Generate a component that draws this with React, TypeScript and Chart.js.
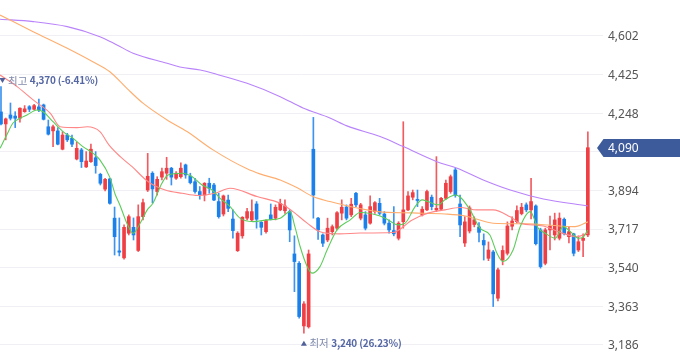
import { useEffect, useRef } from 'react';
import { Chart, registerables } from 'chart.js';

Chart.register(...registerables);

// ---- Candle data (daily OHLC) ----
const opens = [
  4254, 4199, 4240, 4235, 4225, 4255, 4278, 4266, 4277, 4286,
  4186, 4167, 4167, 4083, 4148, 4133, 4038, 4080, 4002, 4026,
  4044, 3968, 3900, 3947, 3767, 3617, 3585, 3698, 3725, 3619,
  3774, 3896, 3973, 3889, 3955, 3973, 3996, 3950, 3957, 4011,
  3960, 3934, 3889, 3873, 3927, 3919, 3843, 3786, 3850, 3763,
  3618, 3686, 3767, 3759, 3832, 3748, 3705, 3782, 3767, 3805,
  3801, 3797, 3603, 3560, 3273, 3269, 4083, 3767, 3690, 3667,
  3705, 3721, 3790, 3818, 3782, 3881, 3767, 3782, 3744, 3797,
  3835, 3786, 3744, 3710, 3675, 3751, 3805, 3863, 3853, 3782,
  3805, 3863, 3805, 3808, 3858, 3889, 3988, 3832, 3653, 3708,
  3738, 3727, 3665, 3583, 3612, 3400, 3575, 3606, 3730, 3751,
  3788, 3828, 3805, 3823, 3713, 3560, 3713, 3690, 3675, 3762,
  3682, 3695, 3621, 3665, 3690,
];
const highs = [
  4370, 4226, 4295, 4255, 4273, 4283, 4283, 4289, 4313, 4290,
  4217, 4194, 4182, 4163, 4156, 4148, 4115, 4087, 4072, 4106,
  4072, 3973, 3950, 3950, 3818, 3768, 3736, 3782, 3768, 3828,
  3854, 4064, 3980, 3957, 3996, 4046, 4000, 3980, 4021, 4015,
  3973, 3950, 3912, 3930, 3950, 3927, 3881, 3873, 3873, 3805,
  3705, 3774, 3812, 3851, 3843, 3751, 3759, 3832, 3828, 3854,
  3851, 3805, 3686, 3568, 3385, 3621, 4229, 3771, 3695, 3767,
  3736, 3797, 3851, 3828, 3858, 3885, 3835, 3797, 3869, 3843,
  3858, 3797, 3759, 3820, 3751, 4209, 3889, 3896, 3896, 3820,
  3896, 3873, 4049, 3863, 3942, 3965, 3996, 3873, 3774, 3823,
  3773, 3747, 3695, 3658, 3619, 3538, 3640, 3750, 3773, 3823,
  3835, 3837, 3950, 3828, 3721, 3721, 3777, 3790, 3791, 3768,
  3728, 3698, 3686, 3695, 4163,
];
const lows = [
  4194, 4126, 4217, 4182, 4207, 4252, 4255, 4263, 4255, 4217,
  4148, 4095, 4103, 4080, 4118, 4095, 4034, 3999, 3999, 4023,
  3973, 3919, 3892, 3831, 3598, 3594, 3579, 3690, 3667, 3614,
  3759, 3889, 3837, 3873, 3942, 3945, 3919, 3945, 3950, 3950,
  3924, 3881, 3854, 3846, 3881, 3847, 3767, 3777, 3797, 3675,
  3614, 3675, 3759, 3751, 3721, 3690, 3698, 3759, 3759, 3801,
  3789, 3659, 3430, 3308, 3240, 3263, 3767, 3670, 3637, 3659,
  3690, 3713, 3759, 3759, 3774, 3820, 3759, 3713, 3740, 3789,
  3782, 3736, 3698, 3686, 3667, 3721, 3801, 3851, 3820, 3777,
  3801, 3805, 3797, 3805, 3854, 3881, 3863, 3682, 3637, 3699,
  3727, 3658, 3575, 3572, 3362, 3388, 3553, 3598, 3713, 3744,
  3782, 3796, 3763, 3644, 3538, 3553, 3621, 3667, 3667, 3690,
  3653, 3594, 3614, 3591, 3682,
];
const closes = [
  4199, 4222, 4225, 4225, 4271, 4268, 4266, 4283, 4263, 4220,
  4152, 4186, 4106, 4148, 4126, 4106, 4087, 4026, 4029, 4083,
  4008, 3927, 3945, 3835, 3682, 3611, 3725, 3774, 3690, 3774,
  3838, 3959, 3901, 3945, 3980, 3996, 3955, 3973, 3996, 3965,
  3930, 3889, 3873, 3927, 3904, 3850, 3774, 3869, 3812, 3710,
  3698, 3771, 3797, 3797, 3762, 3725, 3756, 3762, 3817, 3835,
  3823, 3713, 3568, 3316, 3374, 3603, 3873, 3713, 3652, 3721,
  3728, 3792, 3817, 3767, 3831, 3828, 3828, 3721, 3820, 3838,
  3789, 3744, 3713, 3695, 3744, 3805, 3869, 3884, 3848, 3808,
  3889, 3820, 3812, 3858, 3927, 3957, 3873, 3736, 3750, 3814,
  3759, 3702, 3644, 3621, 3420, 3530, 3619, 3731, 3754, 3802,
  3817, 3805, 3843, 3650, 3545, 3713, 3730, 3759, 3767, 3695,
  3705, 3606, 3659, 3675, 4090,
];

// ---- Moving averages: [candle index, price] ----
const ma5 = [
  [-0.2, 4087], [1.2, 4148], [2.5, 4202], [4.0, 4225], [5.5, 4240], [7.6, 4263], [8.9, 4255],
  [11.0, 4209], [13.1, 4164], [15.2, 4133], [17.3, 4095], [19.4, 4065], [20.9, 4034],
  [23.0, 3954], [24.1, 3878], [25.2, 3823], [26.6, 3744], [27.9, 3698], [29.4, 3744],
  [30.9, 3805], [32.1, 3835], [34.0, 3927], [35.3, 3965], [38.3, 3973], [40.4, 3957],
  [42.5, 3919], [44.6, 3896], [46.3, 3858], [48.4, 3820], [50.5, 3767], [53.3, 3751],
  [56.2, 3759], [59.0, 3767], [61.1, 3797], [62.1, 3728], [63.2, 3637], [64.7, 3545],
  [65.7, 3515], [67.4, 3545], [68.9, 3621], [71.0, 3713], [73.8, 3759], [75.9, 3793],
  [80.1, 3777], [81.8, 3759], [83.9, 3736], [85.4, 3744], [87.5, 3820], [89.0, 3851],
  [90.2, 3843], [92.4, 3828], [93.8, 3851], [96.0, 3873], [97.0, 3864], [99.1, 3805],
  [101.2, 3721], [103.3, 3690], [104.8, 3606], [106.1, 3568], [108.2, 3621], [109.7, 3728],
  [111.8, 3797], [113.5, 3721], [115.0, 3698], [117.1, 3675], [118.8, 3728], [120.3, 3705],
  [122.0, 3675], [123.0, 3680], [124.0, 3713],
];
const ma20 = [
  [-0.2, 4423], [3.4, 4370], [6.8, 4309], [10.4, 4248], [12.5, 4186], [16.1, 4182],
  [18.2, 4186], [20.9, 4164], [22.8, 4103], [25.2, 4049], [27.7, 4003], [31.1, 3934],
  [34.7, 3896], [38.3, 3881], [41.6, 3871], [45.2, 3881], [48.4, 3904], [54.1, 3866],
  [59.0, 3835], [61.7, 3797], [64.7, 3744], [67.4, 3705], [71.6, 3695], [75.9, 3699],
  [82.8, 3701], [86.9, 3759], [90.2, 3790], [93.8, 3805], [97.0, 3816], [100.6, 3805],
  [104.0, 3805], [107.6, 3773], [109.7, 3744], [114.6, 3731], [118.1, 3702], [121.7, 3682],
  [124.0, 3699],
];
const ma60 = [
  [-0.2, 4698], [6.8, 4622], [13.9, 4547], [19.4, 4484], [23.0, 4438], [26.6, 4362],
  [30.0, 4294], [35.1, 4217], [39.3, 4164], [44.8, 4080], [52.0, 3993], [54.7, 3970],
  [59.0, 3942], [62.6, 3906], [65.9, 3866], [69.5, 3843], [73.8, 3820], [79.7, 3797],
  [86.9, 3791], [93.8, 3786], [98.1, 3777], [104.0, 3744], [111.2, 3741], [118.1, 3731],
  [121.3, 3728], [124.0, 3750],
];
const ma120 = [
  [-0.2, 4679], [6.8, 4668], [14.0, 4645], [20.9, 4599], [24.5, 4561], [27.9, 4523],
  [35.1, 4477], [37.8, 4460], [42.1, 4446], [44.8, 4431], [52.0, 4385], [59.0, 4324],
  [63.8, 4272], [69.5, 4226], [73.1, 4190], [80.1, 4141], [85.0, 4095], [92.1, 4026],
  [96.4, 3996], [101.9, 3942], [107.6, 3896], [114.6, 3855], [124.0, 3823],
];

// ---- Axis ticks and labels ----
const yTicks = [3186, 3363, 3540, 3717, 3894, 4071, 4248, 4425, 4602];
const lastPrice = 4090;
const highMark = { index: 0, value: 4370, word: '최고', text: '4,370 (-6.41%)' };
const lowMark = { index: 64, value: 3240, word: '최저', text: '3,240 (26.23%)' };

const UP = '#ef3e44';
const DOWN = '#1b80ea';
const UP_WICK = 'rgba(239,62,68,0.85)';
const DOWN_WICK = 'rgba(27,128,234,0.85)';

const fmt = (v: number) => String(Math.round(v)).replace(/\B(?=(\d{3})+(?!\d))/g, ',');

const overlayPlugin = {
  id: 'overlay',
  afterDraw(chart: any) {
    const { ctx, chartArea } = chart;
    const xs = chart.scales.x;
    const ys = chart.scales.y;
    ctx.save();

    // current price badge
    const py = Math.round(ys.getPixelForValue(lastPrice));
    const tip = chartArea.right - 6;
    const flat = chartArea.right + 0.5;
    ctx.fillStyle = '#3d5a9a';
    ctx.beginPath();
    ctx.moveTo(tip, py);
    ctx.lineTo(flat, py - 9);
    ctx.lineTo(chart.width, py - 9);
    ctx.lineTo(chart.width, py + 9);
    ctx.lineTo(flat, py + 9);
    ctx.closePath();
    ctx.fill();
    ctx.fillStyle = '#ffffff';
    ctx.font = '12px "Noto Sans", sans-serif';
    ctx.textBaseline = 'middle';
    ctx.textAlign = 'left';
    ctx.fillText(fmt(lastPrice), chartArea.right + 5, py + 1);

    const drawMark = (m: any, down: boolean) => {
      const cx = Math.max(xs.getPixelForValue(m.index), 2.5);
      const cy = down ? ys.getPixelForValue(m.value) - 6 : ys.getPixelForValue(m.value) + 10;
      ctx.fillStyle = '#50609a';
      ctx.beginPath();
      if (down) {
        ctx.moveTo(cx - 3, cy - 2.5);
        ctx.lineTo(cx + 3, cy - 2.5);
        ctx.lineTo(cx, cy + 2.5);
      } else {
        ctx.moveTo(cx - 3, cy + 2.5);
        ctx.lineTo(cx + 3, cy + 2.5);
        ctx.lineTo(cx, cy - 2.5);
      }
      ctx.closePath();
      ctx.fill();
      ctx.textBaseline = 'middle';
      ctx.textAlign = 'left';
      ctx.font = '10.5px "Noto Sans CJK KR", sans-serif';
      ctx.fillStyle = '#7f8aab';
      const wx = cx + 5.5;
      ctx.fillText(m.word, wx, cy);
      const ww = ctx.measureText(m.word).width;
      ctx.font = 'bold 10px "Noto Sans CJK KR", sans-serif';
      try { (ctx as any).letterSpacing = '-0.2px'; } catch (e) { /* ignore */ }
      ctx.fillStyle = '#5668a4';
      ctx.fillText(m.text, wx + ww + 2.5, cy);
      try { (ctx as any).letterSpacing = '0px'; } catch (e) { /* ignore */ }
    };
    drawMark(highMark, true);
    drawMark(lowMark, false);
    ctx.restore();
  },
};

export default function App() {
  const ref = useRef<HTMLCanvasElement | null>(null);

  useEffect(() => {
    document.body.style.margin = '0';
    const canvas = ref.current;
    if (!canvas) return;

    const idx = opens.map((_, i) => i);
    const isUp = idx.map((i) => closes[i] >= opens[i]);
    const line = (pts: number[][], color: string, order: number) => ({
      type: 'line' as const,
      data: pts.map((p) => ({ x: p[0], y: p[1] })),
      borderColor: color,
      borderWidth: 1.1,
      pointRadius: 0,
      cubicInterpolationMode: 'monotone' as const,
      fill: false,
      order,
    });

    const chart = new Chart(canvas, {
      type: 'bar',
      data: {
        datasets: [
          line(ma5, '#5ccc5a', 0),
          line(ma20, '#ff8787', 0),
          line(ma60, '#ffad6e', 0),
          line(ma120, '#b983fb', 0),
          {
            type: 'bar',
            data: idx.map((i) => ({ x: i, y: [opens[i], closes[i]] })),
            backgroundColor: idx.map((i) => (isUp[i] ? UP : DOWN)),
            barThickness: 3,
            minBarLength: 1,
            grouped: false,
            borderWidth: 0,
            order: 1,
          } as any,
          {
            type: 'bar',
            data: idx.map((i) => ({ x: i, y: [lows[i], highs[i]] })),
            backgroundColor: idx.map((i) => (isUp[i] ? UP_WICK : DOWN_WICK)),
            barThickness: 1,
            grouped: false,
            borderWidth: 0,
            order: 2,
          } as any,
        ],
      },
      options: {
        responsive: false,
        maintainAspectRatio: false,
        animation: false,
        layout: { padding: 0 },
        plugins: { legend: { display: false }, tooltip: { enabled: false } },
        scales: {
          x: {
            type: 'linear',
            min: -0.21,
            max: 127.2,
            offset: false,
            display: false,
          },
          y: {
            position: 'right',
            min: 3126,
            max: 4767,
            beginAtZero: false,
            afterBuildTicks: (s: any) => {
              s.ticks = yTicks.map((v) => ({ value: v }));
            },
            afterFit: (s: any) => {
              s.width = 77;
              s.paddingTop = 0;
              s.paddingBottom = 0;
            },
            grid: { color: '#f0f0f4', drawTicks: false },
            border: { display: false },
            ticks: {
              padding: 5,
              labelOffset: 1,
              color: '#555555',
              autoSkip: false,
              font: { family: '"Noto Sans", sans-serif', size: 12 },
              callback: (v: any) => (Math.abs(Number(v) - lastPrice) < 30 ? '' : fmt(Number(v))),
            },
          },
        },
      } as any,
      plugins: [overlayPlugin],
    });

    return () => chart.destroy();
  }, []);

  return (
    <div style={{ width: 680, height: 358 }}>
      <canvas ref={ref} width={680} height={358} style={{ display: 'block' }} />
    </div>
  );
}
